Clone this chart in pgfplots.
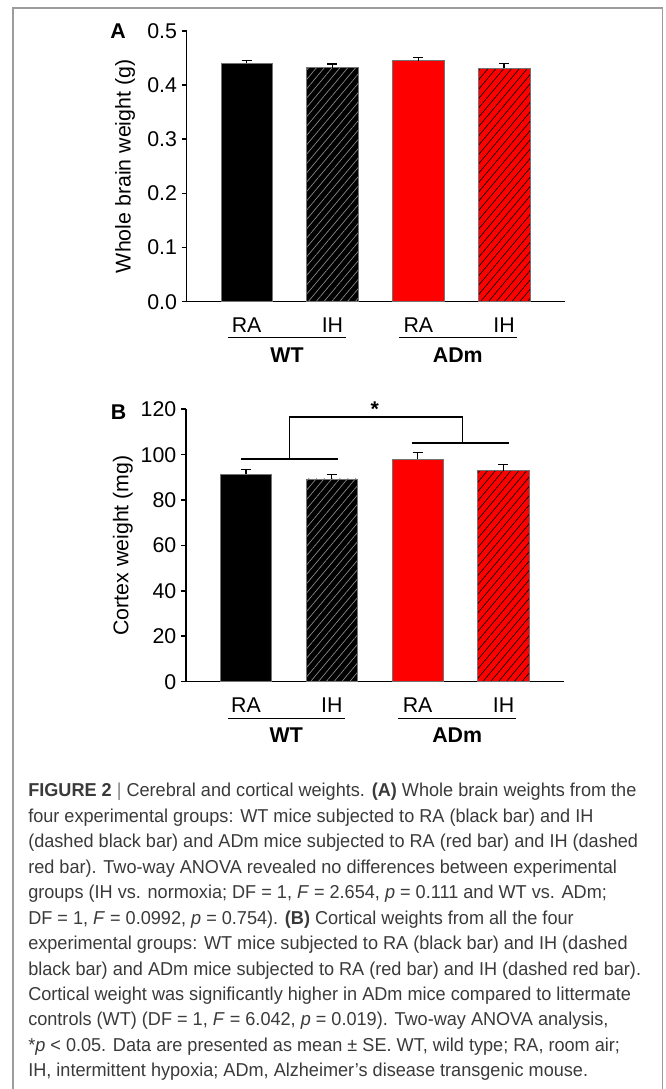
\documentclass[border=0pt]{standalone}
\usepackage{fontspec}
\setmainfont{Liberation Sans}
\newfontfamily\capfont[FakeStretch=0.97]{Liberation Sans}
\usepackage{pgfplots}
\pgfplotsset{compat=1.18}
\usetikzlibrary{patterns.meta}

\definecolor{capgray}{HTML}{3A3A3A}
\definecolor{framegray}{HTML}{9C9C9C}
\definecolor{barred}{HTML}{FF0000}

\newcommand{\fs}{\fontsize{16}{19}\selectfont}

\pgfplotsset{
  panel/.style={
    scale only axis, anchor=south west, clip=false,
    width=283.7pt,
    axis x line=bottom, axis y line=left,
    axis line style={-, line width=1.2pt},
    xmin=0.3015, xmax=4.708, ymin=0,
    xtick={1,2,3,4}, xticklabels={RA,IH,RA,IH},
    x tick style={draw=none},
    xticklabel style={font=\fs, yshift=-4.5pt},
    yticklabel style={font=\fs},
    ylabel style={font=\fs},
    tick align=outside, major tick length=3.75pt,
    y tick style={line width=1.2pt, black},
    /pgf/number format/assume math mode=true,
    ybar, bar width=0.6, bar shift=0pt,
    error bars/y dir=plus, error bars/y explicit,
    error bars/error bar style={line width=1pt, black},
    error bars/error mark options={rotate=90, mark size=3.75pt, line width=1pt, black},
  },
  solidbar/.style={fill=#1, draw=black!55, line width=0.5pt},
  hatchbar/.style 2 args={fill=#1, draw=black!55, line width=0.5pt,
    postaction={pattern={Lines[angle=50,distance=4.5pt,line width=0.5pt]}, pattern color=#2}},
}

\begin{document}
\begin{tikzpicture}
\useasboundingbox (0,0) rectangle (498.75pt,816.75pt);
\draw[framegray, line width=1pt] (9.75pt,0) -- (9.75pt,810.75pt) -- (497pt,810.75pt) -- (497pt,0);

% panel A
\begin{axis}[panel, at={(140pt,590.5pt)}, height=203pt,
  ymax=0.5, ytick={0,0.1,0.2,0.3,0.4,0.5},
  yticklabel style={/pgf/number format/.cd, fixed, fixed zerofill, precision=1},
  ylabel={Whole brain weight (g)},
  ylabel style={at={(axis description cs:-0.1626,0.5)}, anchor=center}]
\addplot[solidbar=black] coordinates {(1,0.440) +- (0,0.006)};
\addplot[hatchbar={black}{black!45}] coordinates {(2,0.432) +- (0,0.007)};
\addplot[solidbar=barred] coordinates {(3,0.445) +- (0,0.0055)};
\addplot[hatchbar={barred}{black}] coordinates {(4,0.431) +- (0,0.009)};
\draw[line width=1pt] (axis cs:0.785,-0.0665) -- (axis cs:2.155,-0.0665);
\draw[line width=1pt] (axis cs:2.775,-0.0665) -- (axis cs:4.145,-0.0665);
\node[font=\fs\bfseries] at (axis cs:1.47,-0.0985) {WT};
\node[font=\fs\bfseries] at (axis cs:3.46,-0.0985) {ADm};
\node[font=\fs\bfseries] at (rel axis cs:-0.181,1) {A};
\end{axis}

% panel B
\begin{axis}[panel, at={(139.5pt,305.5pt)}, height=204.3pt,
  ymax=120, ytick={0,20,40,60,80,100,120},
  ylabel={Cortex weight (mg)},
  ylabel style={at={(axis description cs:-0.167,0.5)}, anchor=center}]
\addplot[solidbar=black] coordinates {(1,91.5) +- (0,2.1)};
\addplot[hatchbar={black}{black!45}] coordinates {(2,89.3) +- (0,1.9)};
\addplot[solidbar=barred] coordinates {(3,98.1) +- (0,2.8)};
\addplot[hatchbar={barred}{black}] coordinates {(4,93.0) +- (0,2.8)};
\draw[line width=1pt] (axis cs:0.94,98.1) -- (axis cs:2.07,98.1);
\draw[line width=1pt] (axis cs:2.93,105.2) -- (axis cs:4.06,105.2);
\draw[line width=1pt] (axis cs:1.505,98.1) |- (axis cs:3.52,116.6) -- (axis cs:3.52,105.2);
\node[font=\fs\bfseries, anchor=base] at (axis cs:2.5,116.8) {*};
\draw[line width=1pt] (axis cs:0.785,-16.1) -- (axis cs:2.155,-16.1);
\draw[line width=1pt] (axis cs:2.775,-16.1) -- (axis cs:4.145,-16.1);
\node[font=\fs\bfseries] at (axis cs:1.47,-23.5) {WT};
\node[font=\fs\bfseries] at (axis cs:3.46,-23.5) {ADm};
\node[font=\fs\bfseries] at (rel axis cs:-0.178,0.991) {B};
\end{axis}

% caption
\node[anchor=north west, align=left, inner sep=0pt, text=capgray,
  font=\capfont\fontsize{14}{19.1}\selectfont] at (21pt,229.5pt) {%
\textbf{FIGURE 2} {\color{black!50}|} Cerebral and cortical weights. \textbf{(A)} Whole brain weights from the\\
four experimental groups: WT mice subjected to RA (black bar) and IH\\
(dashed black bar) and ADm mice subjected to RA (red bar) and IH (dashed\\
red bar). Two-way ANOVA revealed no differences between experimental\\
groups (IH vs. normoxia; DF = 1, \textit{F} = 2.654, \textit{p} = 0.111 and WT vs. ADm;\\
DF = 1, \textit{F} = 0.0992, \textit{p} = 0.754). \textbf{(B)} Cortical weights from all the four\\
experimental groups: WT mice subjected to RA (black bar) and IH (dashed\\
black bar) and ADm mice subjected to RA (red bar) and IH (dashed red bar).\\
Cortical weight was significantly higher in ADm mice compared to littermate\\
controls (WT) (DF = 1, \textit{F} = 6.042, \textit{p} = 0.019). Two-way ANOVA analysis,\\
*\textit{p} < 0.05. Data are presented as mean ± SE. WT, wild type; RA, room air;\\
IH, intermittent hypoxia; ADm, Alzheimer’s disease transgenic mouse.};
\end{tikzpicture}
\end{document}
